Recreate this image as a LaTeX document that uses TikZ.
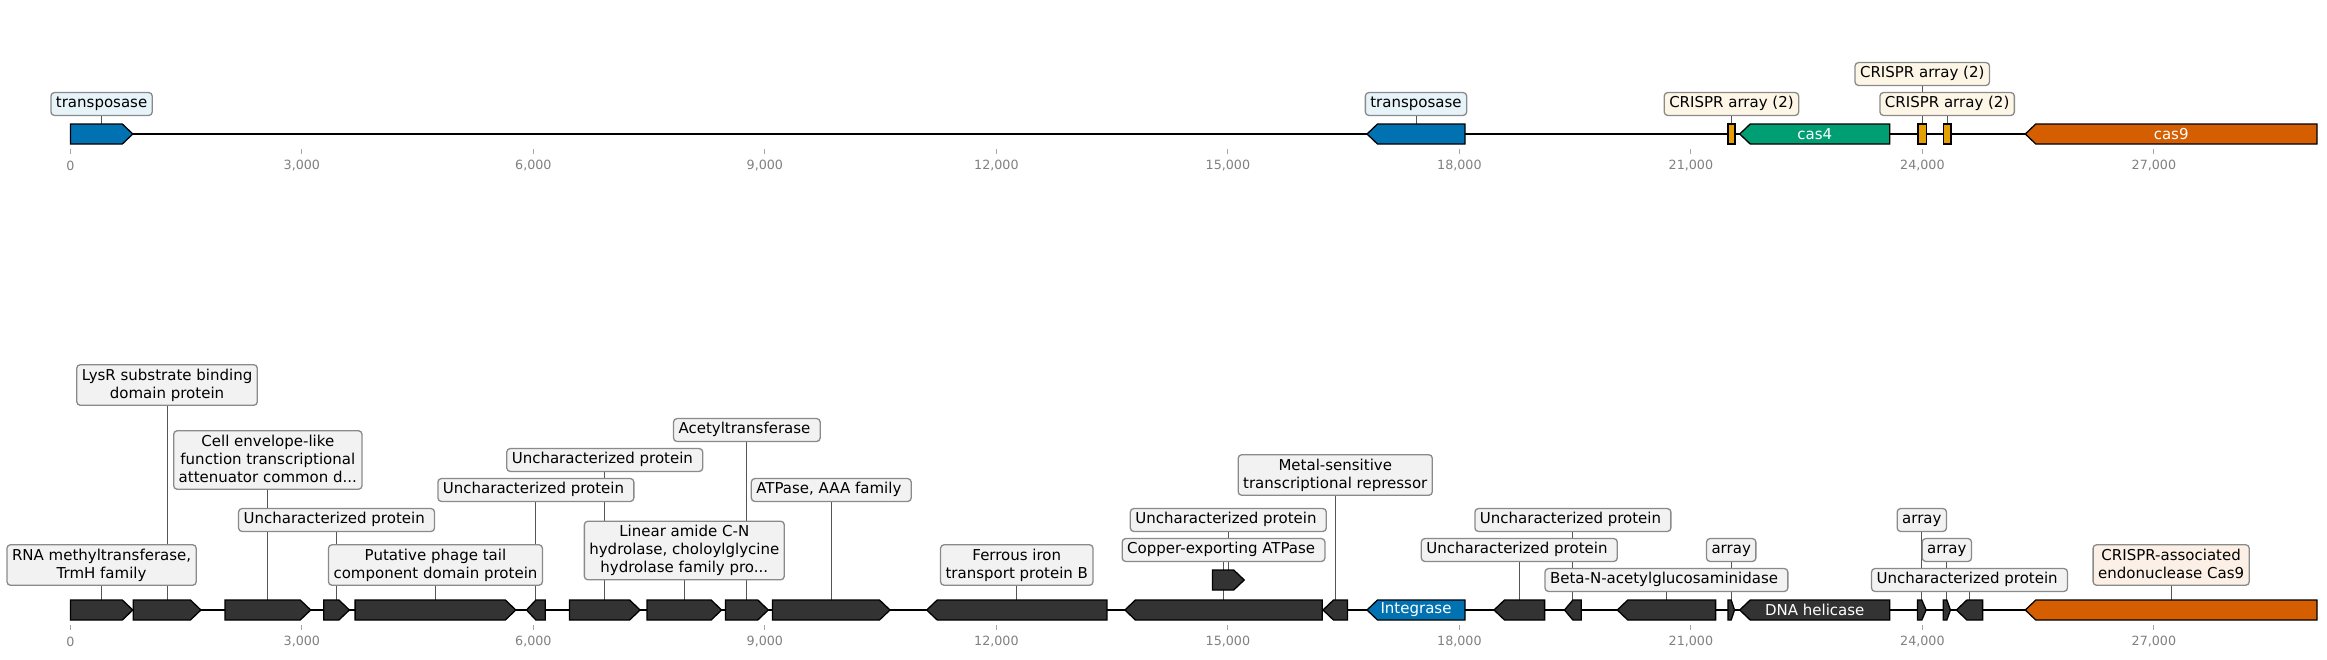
\documentclass[tikz,border=0pt]{standalone}
\usepackage{fontspec}
\setmainfont{DejaVu Sans}
\pgfdeclarelayer{bg}
\pgfsetlayers{bg,main}
\definecolor{gdark}{HTML}{333333}
\definecolor{cblue}{HTML}{0072B2}
\definecolor{cgreen}{HTML}{009E73}
\definecolor{corange}{HTML}{D55E00}
\definecolor{cyellow}{HTML}{E69F00}
\definecolor{lblfill}{HTML}{F2F2F2}
\definecolor{fblue}{HTML}{E6F3F9}
\definecolor{fyellow}{HTML}{FDF6E6}
\definecolor{forange}{HTML}{FCF0E6}
\definecolor{lblborder}{HTML}{8A8A8A}
\definecolor{connc}{HTML}{555555}
\definecolor{tickc}{HTML}{808080}
\tikzset{
  genebox/.style={draw=black, line width=1.3pt, line join=miter},
  backbone/.style={draw=black, line width=2.2pt},
  lbl/.style={draw=lblborder, line width=1.3pt, rounded corners=3.5pt, fill=lblfill,
    inner xsep=5pt, inner ysep=4pt, align=center, font=\fontsize{15}{18}\selectfont},
  lbl1/.style={text height=11.4pt, text depth=3.5pt},
  conn/.style={draw=connc, line width=1pt},
  gtext/.style={text=white, font=\fontsize{15}{18}\selectfont, inner sep=0pt},
  tickmark/.style={draw=tickc!70, line width=1pt},
  ticklbl/.style={text=tickc, font=\fontsize{12.7}{15}\selectfont, inner sep=0pt},
}
% forward gene: name, x1, x2, yc, fill
\newcommand\gf[5]{%
  \pgfmathsetmacro\gh{min(10.5,0.5*(#3-#2))}%
  \pgfmathsetmacro\gs{#3-\gh}%
  \draw[genebox,fill=#5] (#2,#4-10) -- (\gs,#4-10) -- (#3,#4) -- (\gs,#4+10) -- (#2,#4+10) -- cycle;
  \coordinate (#1) at ({(#2+#3)/2},#4-10);
  \coordinate (#1c) at ({(#2+#3)/2},#4);
}
% reverse gene
\newcommand\gr[5]{%
  \pgfmathsetmacro\gh{min(10.5,0.5*(#3-#2))}%
  \pgfmathsetmacro\gs{#2+\gh}%
  \draw[genebox,fill=#5] (#2,#4) -- (\gs,#4-10) -- (#3,#4-10) -- (#3,#4+10) -- (\gs,#4+10) -- cycle;
  \coordinate (#1) at ({(#2+#3)/2},#4-10);
  \coordinate (#1c) at ({(#2+#3)/2},#4);
}
% no-strand feature
\newcommand\grect[5]{%
  \draw[genebox,fill=#5] (#2,#4-10) rectangle (#3,#4+10);
  \coordinate (#1) at ({(#2+#3)/2},#4-10);
  \coordinate (#1c) at ({(#2+#3)/2},#4);
}
% label: [style] name, gene, y, text
\newcommand\lab[5][]{%
  \path (0,#4) coordinate (#2y);
  \node[lbl,#1] (#2) at (#3 |- #2y) {#5};
  \begin{pgfonlayer}{bg}\draw[conn] (#2.south) -- (#3);\end{pgfonlayer}
}
\begin{document}
\begin{tikzpicture}[x=1pt,y=-1pt]
\useasboundingbox (0,0) rectangle (2327,659);
% backbones
\coordinate (ts) at (70.4,134); \coordinate (te) at (2317,134);
\coordinate (bs0) at (70.4,610); \coordinate (be) at (2317,610);
\begin{pgfonlayer}{bg}
\draw[backbone] (ts) -- (te);
\draw[backbone] (bs0) -- (be);
\end{pgfonlayer}
% ticks
\foreach \k/\t in {0/0,1/{3,000},2/{6,000},3/{9,000},4/{12,000},5/{15,000},6/{18,000},7/{21,000},8/{24,000},9/{27,000}}{
  \pgfmathsetmacro\xx{70.4+\k*231.5}
  \draw[tickmark] (\xx,149) -- (\xx,154);
  \node[ticklbl] (tt\k) at (\xx,165.7) {\t};
  \draw[tickmark] (\xx,625) -- (\xx,630);
  \node[ticklbl] (bt\k) at (\xx,641.7) {\t};
}
% top track
\gf{t1}{70.4}{132.8}{134}{cblue}
\gr{t2}{1367}{1465}{134}{cblue}
\grect{t3}{1727.9}{1735}{134}{cyellow}
\gr{t4}{1739.7}{1889.8}{134}{cgreen}
\grect{t5}{1918}{1926.5}{134}{cyellow}
\grect{t6}{1943.3}{1951}{134}{cyellow}
\gr{t7}{2025.3}{2317}{134}{corange}
\node[gtext] (t4txt) at (t4c) {cas4};
\node[gtext] (t7txt) at (t7c) {cas9};
\lab[lbl1,fill=fblue]{u1}{t1}{104}{transposase}
\lab[lbl1,fill=fblue]{u2}{t2}{104}{transposase}
\lab[lbl1,fill=fyellow]{u3}{t3}{104}{CRISPR array (2)}
\lab[lbl1,fill=fyellow]{u5}{t5}{74}{CRISPR array (2)}
\lab[lbl1,fill=fyellow]{u6}{t6}{104}{CRISPR array (2)}
% bottom track
\gf{b1}{70.4}{132.8}{610}{gdark}
\gf{b2}{133.2}{200.9}{610}{gdark}
\gf{b3}{225}{310.7}{610}{gdark}
\gf{b4}{323.7}{349.4}{610}{gdark}
\gf{b5}{355.1}{515.8}{610}{gdark}
\gr{b6}{526.5}{545.3}{610}{gdark}
\gf{b7}{569.4}{640.1}{610}{gdark}
\gf{b8}{647}{721.6}{610}{gdark}
\gf{b9}{725.4}{768.3}{610}{gdark}
\gf{b10}{772.5}{890}{610}{gdark}
\gr{b11}{926.7}{1106.9}{610}{gdark}
\gr{b12}{1124.9}{1322.2}{610}{gdark}
\gr{b13}{1323}{1347.5}{610}{gdark}
\gf{bs}{1212.4}{1244.2}{580}{gdark}
\gr{b14}{1367}{1465}{610}{cblue}
\gr{b15}{1494}{1544.6}{610}{gdark}
\gr{b16}{1564.5}{1581.3}{610}{gdark}
\gr{b17}{1617.3}{1715.6}{610}{gdark}
\gf{b18}{1727.9}{1734.5}{610}{gdark}
\gr{b19}{1739.7}{1889.8}{610}{gdark}
\gf{b20}{1917.5}{1926.1}{610}{gdark}
\gf{b21}{1943.3}{1950.4}{610}{gdark}
\gr{b22}{1956.4}{1982.6}{610}{gdark}
\gr{b23}{2025.3}{2317}{610}{corange}
\node[gtext] (b14txt) at (b14c) {Integrase};
\node[gtext] (b19txt) at (b19c) {DNA helicase};
\lab{l1}{b1}{565}{RNA methyltransferase,\\TrmH family}
\lab{l2}{b2}{385}{LysR substrate binding\\domain protein}
\lab{l3}{b3}{460}{Cell envelope-like\\function transcriptional\\attenuator common d...\vphantom{p}}
\lab[lbl1]{l4}{b4}{520}{Uncharacterized protein\ }
\lab{l5}{b5}{565}{Putative phage tail\\component domain protein}
\lab[lbl1]{l6}{b6}{490}{Uncharacterized protein\ }
\lab[lbl1]{l7}{b7}{460}{Uncharacterized protein\ }
\lab{l8}{b8}{550.5}{Linear amide C-N\\hydrolase, choloylglycine\\hydrolase family pro...}
\lab[lbl1]{l9}{b9}{430}{Acetyltransferase\ }
\lab[lbl1]{l10}{b10}{490}{ATPase, AAA family\ }
\lab{l11}{b11}{565}{Ferrous iron\\transport protein B}
\lab[lbl1]{l12}{b12}{550}{Copper-exporting ATPase\ }
\lab[lbl1]{lbs}{bs}{520}{Uncharacterized protein\ }
\lab{l13}{b13}{475}{Metal-sensitive\\transcriptional repressor}
\lab[lbl1]{l15}{b15}{550}{Uncharacterized protein\ }
\lab[lbl1]{l16}{b16}{520}{Uncharacterized protein\ }
\lab[lbl1]{l17}{b17}{580}{Beta-N-acetylglucosaminidase\ }
\lab[lbl1]{l18}{b18}{550}{array}
\lab[lbl1]{l20}{b20}{520}{array}
\lab[lbl1]{l21}{b21}{550}{array}
\lab[lbl1]{l22}{b22}{580}{Uncharacterized protein\ }
\lab[fill=forange]{l23}{b23}{565}{CRISPR-associated\\endonuclease Cas9\vphantom{p}}
\end{tikzpicture}
\end{document}
